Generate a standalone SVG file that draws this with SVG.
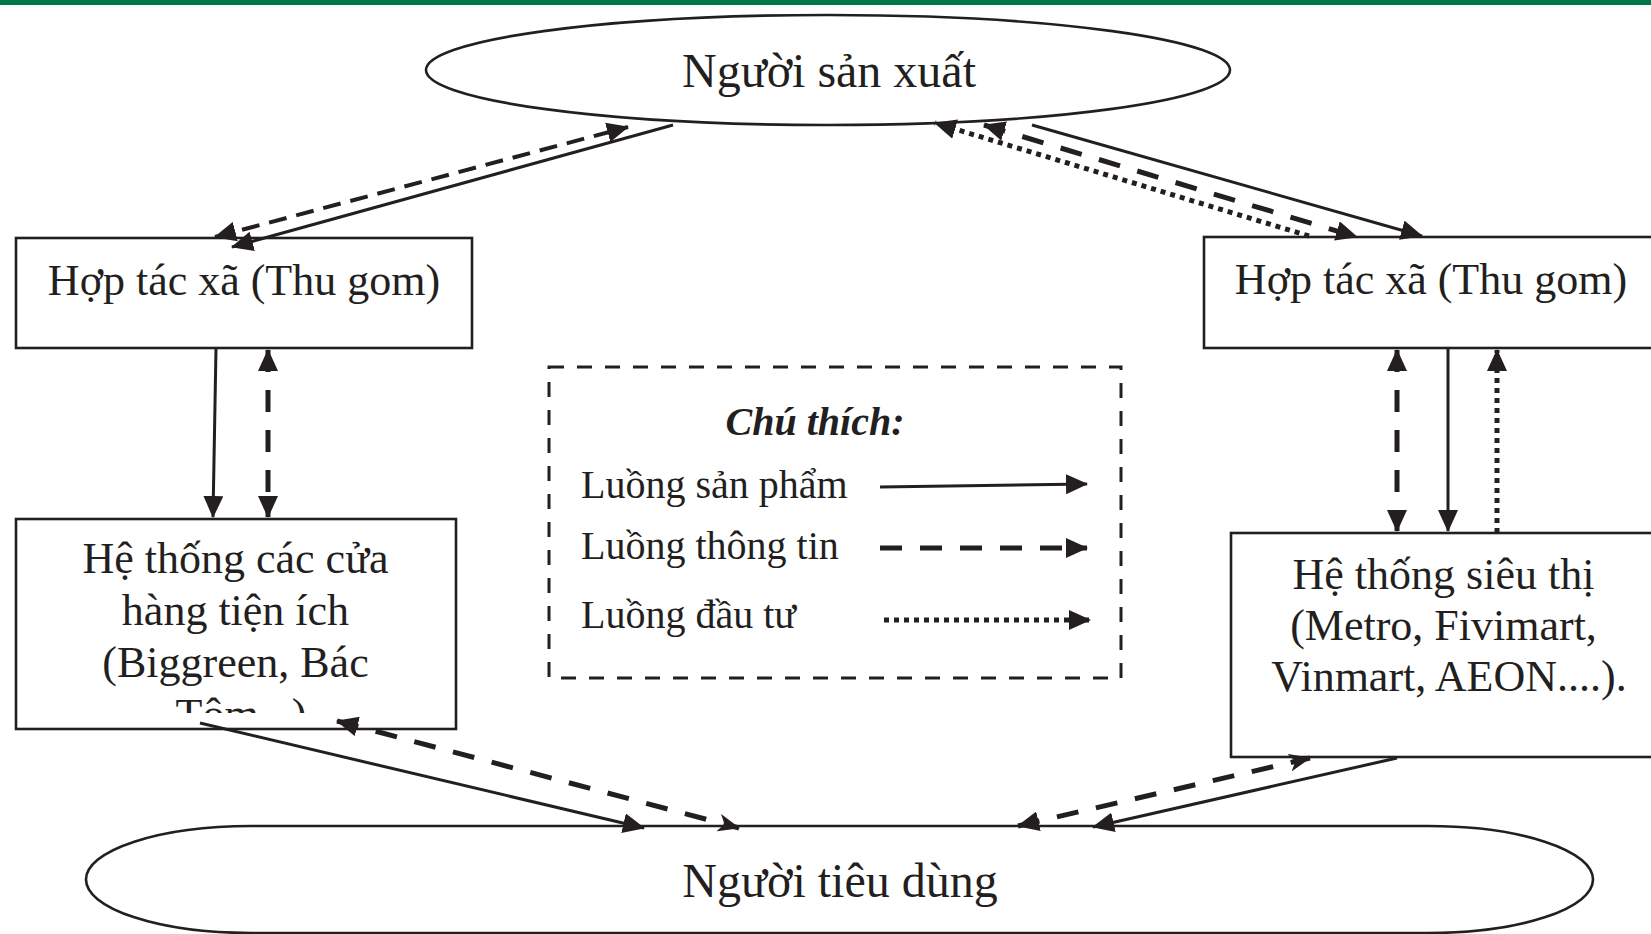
<svg xmlns="http://www.w3.org/2000/svg" width="1651" height="934" viewBox="0 0 1651 934">
<style>
.t{font-family:"Liberation Serif","Times New Roman",serif;fill:#231f20;}
.box{fill:#fff;stroke:#231f20;stroke-width:2.6;}
.ln{fill:none;stroke:#231f20;stroke-width:3;}
.dsh{fill:none;stroke:#231f20;stroke-width:5;stroke-dasharray:22 18;}
.dshThin{fill:none;stroke:#231f20;stroke-width:4;stroke-dasharray:18 10;}
.dot{fill:none;stroke:#231f20;stroke-width:5;stroke-dasharray:5 5;}
</style>
<defs>
<marker id="ah" markerUnits="userSpaceOnUse" markerWidth="22" markerHeight="20" refX="21" refY="10" orient="auto-start-reverse">
<path d="M0,0 L22,10 L0,20 z" fill="#231f20"/>
</marker>
<marker id="ahb" markerUnits="userSpaceOnUse" markerWidth="22" markerHeight="18" refX="21" refY="9" orient="auto-start-reverse">
<path d="M0,0 L22,9 L0,18 L6,9 z" fill="#231f20"/>
</marker>
<clipPath id="clipL"><rect x="16" y="519" width="440" height="194"/></clipPath>
</defs>
<rect x="0" y="0" width="1651" height="5" fill="#00794a"/>

<g id="nguoi-san-xuat">
<ellipse cx="828" cy="70" rx="402" ry="55" class="box"/>
<text class="t" x="829" y="87" font-size="48" text-anchor="middle">Người sản xuất</text>
</g>

<g id="htx-left">
<rect x="16" y="238" width="456" height="110" class="box"/>
<text class="t" x="244" y="295" font-size="44" text-anchor="middle">Hợp tác xã (Thu gom)</text>
</g>

<g id="htx-right">
<rect x="1204" y="237" width="460" height="111" class="box"/>
<text class="t" x="1431" y="294" font-size="44" text-anchor="middle">Hợp tác xã (Thu gom)</text>
</g>

<g id="cua-hang">
<rect x="16" y="519" width="440" height="210" class="box"/>
<g clip-path="url(#clipL)">
<text class="t" font-size="44" text-anchor="middle">
<tspan x="241" y="573">Hệ thống các cửa</tspan>
<tspan x="241" y="625">hàng tiện ích</tspan>
<tspan x="241" y="677">(Biggreen, Bác</tspan>
<tspan x="241" y="729">Tôm...)</tspan>
</text>
</g>
</g>

<g id="sieu-thi">
<rect x="1231" y="533" width="430" height="224" class="box"/>
<text class="t" font-size="44" text-anchor="middle">
<tspan x="1449" y="589">Hệ thống siêu thị</tspan>
<tspan x="1449" y="640">(Metro, Fivimart,</tspan>
<tspan x="1449" y="691">Vinmart, AEON....).</tspan>
</text>
</g>

<g id="nguoi-tieu-dung">
<rect x="86" y="826" width="1507" height="107" rx="165" ry="53.5" class="box"/>
<text class="t" x="840" y="897" font-size="48" text-anchor="middle">Người tiêu dùng</text>
</g>

<g id="legend">
<rect x="549" y="367" width="572" height="311" fill="none" stroke="#231f20" stroke-width="3" stroke-dasharray="15 13"/>
<text class="t" x="815" y="435" font-size="40" font-weight="bold" font-style="italic" text-anchor="middle">Chú thích:</text>
<text class="t" x="581" y="498" font-size="40">Luồng sản phẩm</text>
<text class="t" x="581" y="559" font-size="40">Luồng thông tin</text>
<text class="t" x="581" y="628" font-size="40">Luồng đầu tư</text>
<line x1="880" y1="487" x2="1087" y2="484" class="ln" stroke-width="3.5" marker-end="url(#ah)"/>
<line x1="880" y1="548" x2="1087" y2="548" class="dsh" stroke-width="6" marker-end="url(#ah)"/>
<line x1="884" y1="620" x2="1090" y2="620" class="dot" marker-end="url(#ah)"/>
</g>

<g id="connectors">
<line x1="215" y1="237" x2="628" y2="127" class="dshThin" marker-start="url(#ah)" marker-end="url(#ah)"/>
<line x1="673" y1="125" x2="232" y2="247" class="ln" marker-end="url(#ah)"/>
<line x1="1309" y1="236" x2="935" y2="123" class="dot" marker-end="url(#ah)"/>
<line x1="984" y1="125" x2="1357" y2="237" class="dsh" stroke-width="5.5" marker-start="url(#ah)" marker-end="url(#ah)"/>
<line x1="1032" y1="125" x2="1422" y2="236" class="ln" marker-end="url(#ah)"/>
<line x1="216" y1="348" x2="213" y2="517" class="ln" marker-end="url(#ah)"/>
<line x1="268" y1="350" x2="268" y2="517" class="dsh" marker-start="url(#ah)" marker-end="url(#ah)"/>
<line x1="1397" y1="350" x2="1397" y2="531" class="dsh" marker-start="url(#ah)" marker-end="url(#ah)"/>
<line x1="1448" y1="348" x2="1448" y2="531" class="ln" marker-end="url(#ah)"/>
<line x1="1497" y1="533" x2="1497" y2="350" class="dot" marker-end="url(#ah)"/>
<line x1="200" y1="723" x2="644" y2="828" class="ln" marker-end="url(#ah)"/>
<line x1="337" y1="721" x2="739" y2="828" class="dsh" marker-start="url(#ah)" marker-end="url(#ahb)"/>
<line x1="1397" y1="758" x2="1093" y2="827" class="ln" marker-end="url(#ah)"/>
<line x1="1018" y1="826" x2="1310" y2="758" class="dsh" marker-start="url(#ah)" marker-end="url(#ahb)"/>
</g>
</svg>
